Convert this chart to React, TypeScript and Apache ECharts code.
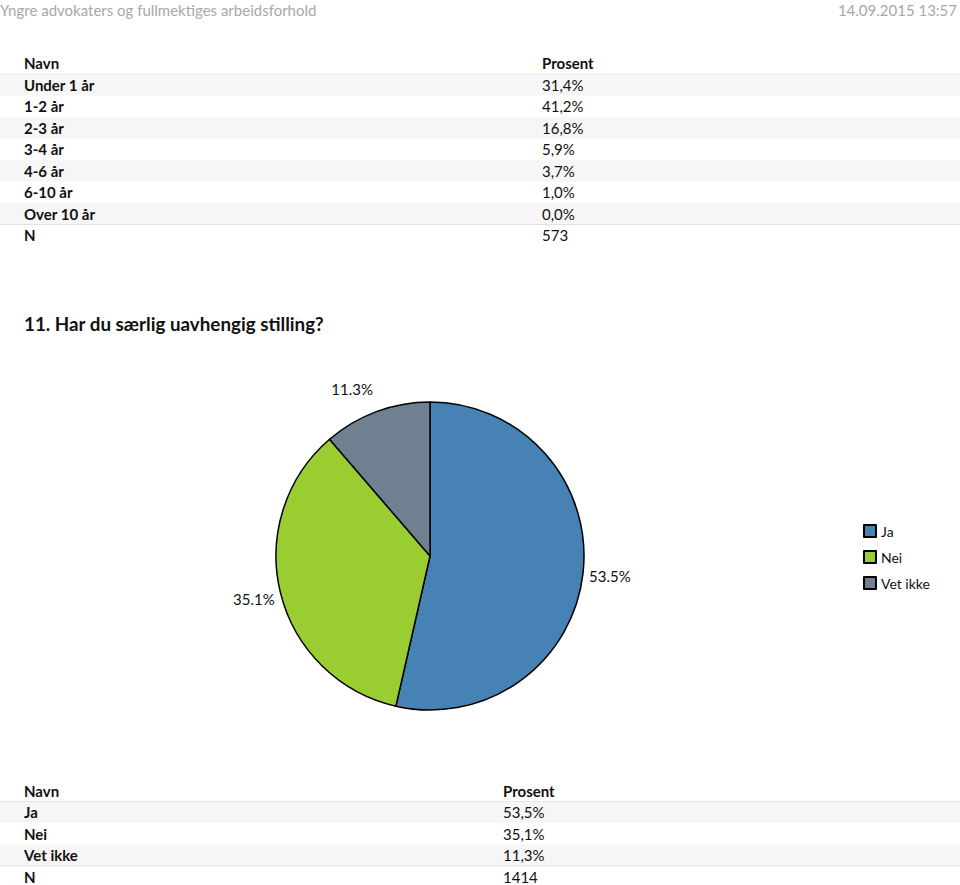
import React, { useEffect, useRef } from "react";
import * as echarts from "echarts";

// ---------- data ----------
const headerTitle = "Yngre advokaters og fullmektiges arbeidsforhold";
const headerDate = "14.09.2015 13:57";

const table1Names = ["Under 1 år", "1-2 år", "2-3 år", "3-4 år", "4-6 år", "6-10 år", "Over 10 år"];
const table1Values = [31.4, 41.2, 16.8, 5.9, 3.7, 1.0, 0.0];
const table1N = 573;

const questionTitle = "11. Har du særlig uavhengig stilling?";
const pieCategories = ["Ja", "Nei", "Vet ikke"];
const pieValues = [53.5, 35.1, 11.3];
const pieColors = ["#4682B4", "#9ACD32", "#708090"];
const table2N = 1414;

const colHeaders = ["Navn", "Prosent"];

// ---------- helpers ----------
const FONT = "Lato";
const fmtComma = (v: number) => v.toFixed(1).replace(".", ",") + "%";

function buildTable(
  headerY: number,
  top: number,
  rowH: number,
  valueX: number,
  names: string[],
  values: number[],
  n: number
) {
  const els: any[] = [];
  const textStyle = (txt: string, x: number, y: number, bold: boolean) => ({
    type: "text",
    x,
    y,
    style: {
      text: txt,
      fill: "#111",
      font: `${bold ? "bold " : ""}15px ${FONT}`,
      textAlign: "left",
      textVerticalAlign: "middle",
    },
  });
  els.push(textStyle(colHeaders[0], 24, headerY, true));
  els.push(textStyle(colHeaders[1], valueX, headerY, true));
  els.push({
    type: "line",
    shape: { x1: 0, y1: top, x2: 960, y2: top },
    style: { stroke: "#e6e6e6", lineWidth: 1 },
  });
  names.forEach((name, i) => {
    const rowTop = top + i * rowH;
    if (i % 2 === 0) {
      els.push({
        type: "rect",
        shape: { x: 0, y: rowTop, width: 960, height: rowH },
        style: { fill: "#f6f6f6" },
        z: -1,
      });
    }
    els.push(textStyle(name, 24, rowTop + rowH / 2, true));
    els.push(textStyle(fmtComma(values[i]), valueX, rowTop + rowH / 2, false));
  });
  const nTop = top + names.length * rowH;
  els.push({
    type: "line",
    shape: { x1: 0, y1: nTop, x2: 960, y2: nTop },
    style: { stroke: "#e2e2e2", lineWidth: 1 },
  });
  els.push(textStyle("N", 24, nTop + rowH / 2, true));
  els.push(textStyle(String(n), valueX, nTop + rowH / 2, false));
  return els;
}

export default function App() {
  const ref = useRef<HTMLDivElement>(null);

  useEffect(() => {
    if (!ref.current) return;
    const chart = echarts.init(ref.current, null, { renderer: "svg" });

    const total = pieValues.reduce((a, b) => a + b, 0);
    const cum: number[] = [];
    pieValues.reduce((acc, v, i) => {
      cum[i] = acc;
      return acc + v;
    }, 0);

    const graphic: any[] = [
      {
        type: "text",
        x: 0,
        y: 10,
        style: {
          text: headerTitle,
          fill: "#a8a8a8",
          font: `15px ${FONT}`,
          textAlign: "left",
          textVerticalAlign: "middle",
        },
      },
      {
        type: "text",
        x: 957,
        y: 10,
        style: {
          text: headerDate,
          fill: "#a8a8a8",
          font: `15px ${FONT}`,
          textAlign: "right",
          textVerticalAlign: "middle",
        },
      },
      {
        type: "text",
        x: 24,
        y: 323,
        style: {
          text: questionTitle,
          fill: "#111",
          font: `bold 18.8px ${FONT}`,
          textAlign: "left",
          textVerticalAlign: "middle",
        },
      },
      ...buildTable(63, 74, 21.5, 542, table1Names, table1Values, table1N),
      ...buildTable(791, 801.5, 21.5, 503, pieCategories, pieValues, table2N),
    ];

    chart.setOption({
      animation: false,
      backgroundColor: "#fff",
      color: pieColors,
      graphic,
      legend: {
        orient: "vertical",
        left: 858,
        top: 519,
        itemWidth: 12,
        itemHeight: 12,
        itemGap: 12,
        icon: "rect",
        data: pieCategories,
        textStyle: { fontSize: 14, color: "#111", fontFamily: FONT },
      },
      series: [
        {
          type: "pie",
          center: [430, 556],
          radius: 154,
          startAngle: 90,
          clockwise: true,
          silent: true,
          itemStyle: { borderColor: "#000", borderWidth: 1.5 },
          label: {
            show: true,
            position: "outside",
            distanceToLabelLine: 2,
            fontSize: 15,
            fontFamily: FONT,
            color: "#111",
            formatter: (p: any) => p.value.toFixed(1) + "%",
          },
          labelLine: { show: false, length: 4, length2: 0 },
          labelLayout: (p: any) => {
            const i = p.dataIndex;
            const mid = ((cum[i] + pieValues[i] / 2) / total) * Math.PI * 2;
            return { dy: -Math.cos(mid) * 20 };
          },
          data: pieCategories.map((name, i) => ({ name, value: pieValues[i] })),
        },
      ],
    });

    return () => chart.dispose();
  }, []);

  return (
    <div
      ref={ref}
      style={{ position: "fixed", left: 0, top: 0, width: 960, height: 885, background: "#fff" }}
    />
  );
}
